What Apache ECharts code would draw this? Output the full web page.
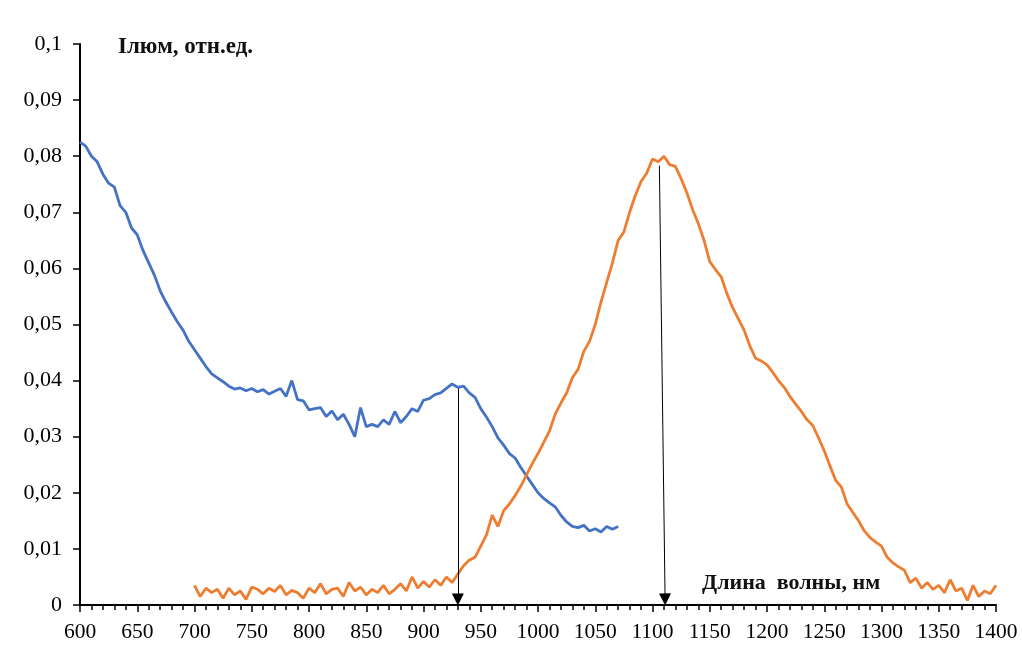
<!DOCTYPE html>
<html lang="uk">
<head>
    <meta charset="UTF-8">
    <title>Спектри люмінесценції</title>
    <style type="text/css">
        html, body { margin: 0; padding: 0; background: #fff; }
        #mountNode { width: 1022px; height: 652px; }
    </style>
</head>
<body>
<div id="mountNode"></div>
<script src="https://cdn.jsdelivr.net/npm/echarts@6/dist/echarts.min.js"></script>
<script type="text/javascript">
    // синя крива (600-1070 нм)
    var blueWl = [600,605,610,615,620,625,630,635,640,645,650,655,660,665,670,675,680,685,690,695,
        700,705,710,715,720,725,730,735,740,745,750,755,760,765,770,775,780,785,790,795,
        800,805,810,815,820,825,830,835,840,845,850,855,860,865,870,875,880,885,890,895,
        900,905,910,915,920,925,930,935,940,945,950,955,960,965,970,975,980,985,990,995,
        1000,1005,1010,1015,1020,1025,1030,1035,1040,1045,1050,1055,1060,1065,1070];
    var blueVal = [0.0825,0.0818,0.0800,0.0790,0.0768,0.0752,0.0745,0.0712,0.0700,0.0672,0.0660,0.0632,0.0610,0.0588,0.0560,0.0540,0.0522,0.0505,0.0490,0.0470,
        0.0455,0.0440,0.0425,0.0412,0.0405,0.0398,0.0390,0.0385,0.0387,0.0382,0.0386,0.0380,0.0384,0.0376,0.0381,0.0386,0.0372,0.0400,0.0366,0.0364,
        0.0348,0.0350,0.0352,0.0336,0.0346,0.0330,0.0340,0.0322,0.0300,0.0352,0.0318,0.0322,0.0318,0.0330,0.0322,0.0345,0.0325,0.0336,0.0350,0.0345,
        0.0365,0.0368,0.0375,0.0378,0.0386,0.0394,0.0388,0.0390,0.0378,0.0370,0.0350,0.0335,0.0318,0.0298,0.0285,0.0270,0.0262,0.0245,0.0230,0.0215,
        0.0200,0.0190,0.0182,0.0175,0.0160,0.0148,0.0140,0.0138,0.0142,0.0132,0.0136,0.0130,0.0140,0.0135,0.0140];

    // помаранчева крива (700-1400 нм)
    var orangeWl = [700,705,710,715,720,725,730,735,740,745,750,755,760,765,770,775,780,785,790,795,
        800,805,810,815,820,825,830,835,840,845,850,855,860,865,870,875,880,885,890,895,
        900,905,910,915,920,925,930,935,940,945,950,955,960,965,970,975,980,985,990,995,
        1000,1005,1010,1015,1020,1025,1030,1035,1040,1045,1050,1055,1060,1065,1070,1075,1080,1085,1090,1095,
        1100,1105,1110,1115,1120,1125,1130,1135,1140,1145,1150,1155,1160,1165,1170,1175,1180,1185,1190,1195,
        1200,1205,1210,1215,1220,1225,1230,1235,1240,1245,1250,1255,1260,1265,1270,1275,1280,1285,1290,1295,
        1300,1305,1310,1315,1320,1325,1330,1335,1340,1345,1350,1355,1360,1365,1370,1375,1380,1385,1390,1395,1400];
    var orangeVal = [0.0035,0.0015,0.0030,0.0022,0.0028,0.0012,0.0030,0.0018,0.0025,0.0010,0.0032,0.0028,0.0020,0.0030,0.0024,0.0035,0.0018,0.0026,0.0022,0.0012,
        0.0030,0.0022,0.0038,0.0020,0.0028,0.0030,0.0015,0.0040,0.0025,0.0032,0.0018,0.0028,0.0022,0.0035,0.0020,0.0028,0.0038,0.0025,0.0050,0.0030,
        0.0042,0.0032,0.0045,0.0035,0.0050,0.0040,0.0055,0.0070,0.0080,0.0085,0.0105,0.0125,0.0160,0.0140,0.0168,0.0180,0.0195,0.0212,0.0232,0.0252,
        0.0270,0.0290,0.0310,0.0340,0.0360,0.0378,0.0405,0.0420,0.0452,0.0470,0.0500,0.0540,0.0575,0.0610,0.0650,0.0665,0.0700,0.0730,0.0755,0.0770,
        0.0795,0.0790,0.0800,0.0785,0.0782,0.0760,0.0735,0.0705,0.0680,0.0650,0.0612,0.0598,0.0585,0.0555,0.0530,0.0510,0.0490,0.0462,0.0440,0.0435,
        0.0428,0.0415,0.0400,0.0388,0.0372,0.0358,0.0345,0.0330,0.0320,0.0298,0.0275,0.0248,0.0222,0.0210,0.0180,0.0165,0.0150,0.0132,0.0120,0.0112,
        0.0105,0.0085,0.0075,0.0068,0.0062,0.0040,0.0048,0.0030,0.0040,0.0028,0.0035,0.0022,0.0045,0.0025,0.0030,0.0008,0.0035,0.0015,0.0025,0.0020,0.0035];

    // стрілки до максимумів
    var arrowBlue = [[930, 0.0386], [930, 0.0010]];
    var arrowOrange = [[1106, 0.0783], [1111, 0.0010]];

    function pairs(xs, ys) {
        var out = [];
        for (var i = 0; i < xs.length; i++) {
            out.push([xs[i], ys[i]]);
        }
        return out;
    }

    var serif = 'Liberation Serif';
    var myChart = echarts.init(document.getElementById('mountNode'));

    var option = {
        animation: false,
        backgroundColor: '#fff',
        grid: { left: 80, right: 26, top: 44, bottom: 47 },
        xAxis: {
            type: 'value',
            min: 600,
            max: 1400,
            interval: 50,
            splitLine: { show: false },
            axisLine: { lineStyle: { color: '#000', width: 2 } },
            axisTick: { inside: false, length: 7, lineStyle: { color: '#000', width: 1.5 } },
            minorTick: { show: true, splitNumber: 5, length: 5, lineStyle: { color: '#000', width: 1.5 } },
            axisLabel: {
                color: '#000', fontFamily: serif, fontSize: 21.5, margin: 16,
                formatter: function (v) { return String(v); }
            }
        },
        yAxis: {
            type: 'value',
            min: 0,
            max: 0.1,
            interval: 0.01,
            splitLine: { show: false },
            axisLine: { show: true, lineStyle: { color: '#000', width: 2 } },
            axisTick: { show: true, length: 7, lineStyle: { color: '#000', width: 1.5 } },
            axisLabel: {
                color: '#000', fontFamily: serif, fontSize: 22, margin: 18,
                formatter: function (v) {
                    var s = v.toFixed(2).replace(/0+$/, '').replace(/\.$/, '');
                    return s.replace('.', ',');
                }
            }
        },
        series: [
            {
                type: 'line',
                data: pairs(blueWl, blueVal),
                showSymbol: false,
                lineStyle: { color: '#4472C4', width: 2.8 },
                itemStyle: { color: '#4472C4' }
            },
            {
                type: 'line',
                data: pairs(orangeWl, orangeVal),
                showSymbol: false,
                lineStyle: { color: '#ED7D31', width: 2.8 },
                itemStyle: { color: '#ED7D31' },
                markLine: {
                    silent: true,
                    symbol: ['none', 'triangle'],
                    symbolSize: 12,
                    label: { show: false },
                    lineStyle: { color: '#000', width: 1, type: 'solid' },
                    data: [
                        [{ coord: arrowBlue[0] }, { coord: arrowBlue[1] }],
                        [{ coord: arrowOrange[0] }, { coord: arrowOrange[1] }]
                    ]
                }
            }
        ],
        graphic: [
            {
                type: 'text', left: 118, top: 36,
                style: { text: 'Ілюм, отн.ед.', font: 'bold 23px "Liberation Serif"', fill: '#111' }
            },
            {
                type: 'text', left: 702, top: 572,
                style: { text: 'Длина  волны, нм', font: 'bold 22px "Liberation Serif"', fill: '#111' }
            }
        ]
    };

    myChart.setOption(option);
</script>
</body>
</html>
